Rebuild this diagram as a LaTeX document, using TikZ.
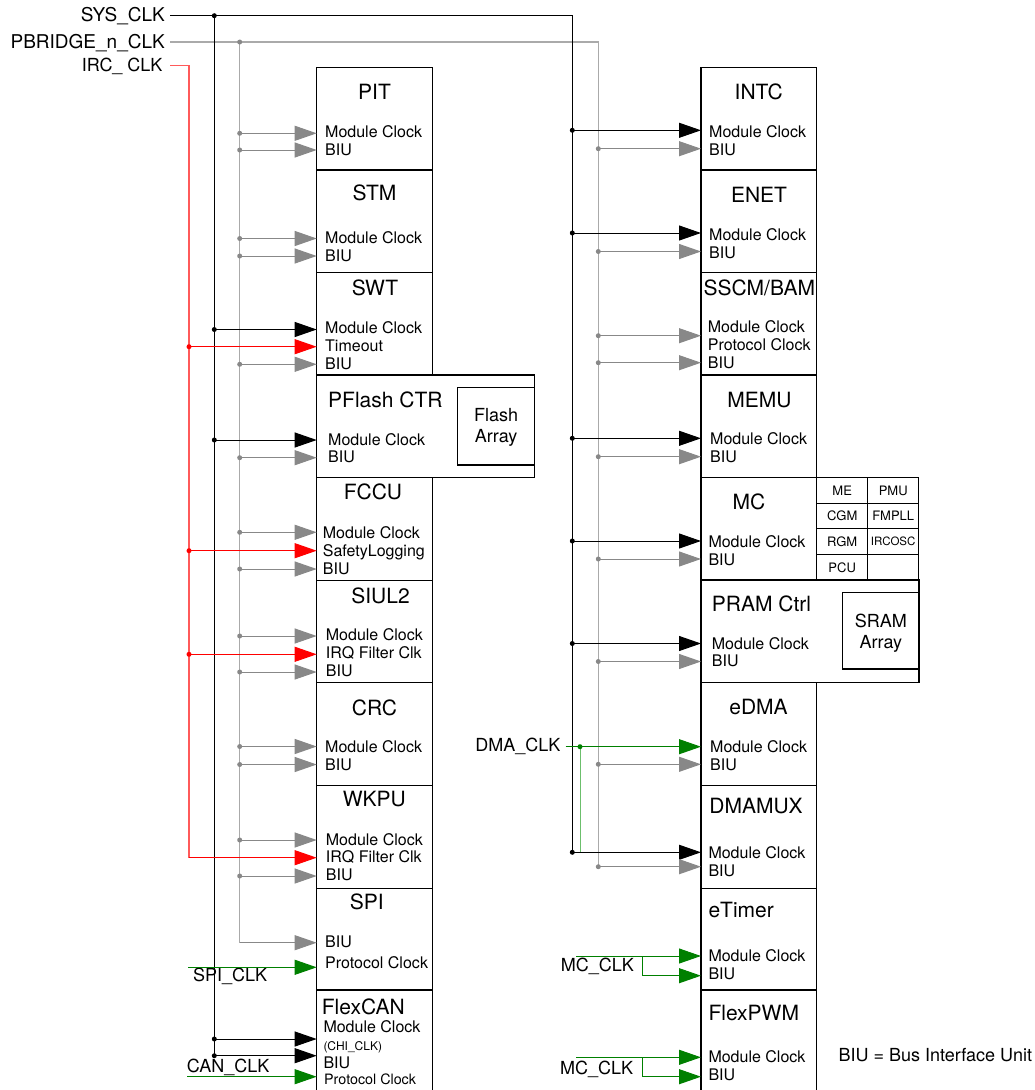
\documentclass[tikz,border=0pt]{standalone}
\usepackage{fontspec}
\setmainfont{TeX Gyre Heros}
\usetikzlibrary{arrows.meta}
\definecolor{gbus}{HTML}{AAAAAA}
\definecolor{garrc}{HTML}{888888}
\definecolor{rbus}{HTML}{FF5A5A}
\definecolor{rarrc}{HTML}{FF0000}
\definecolor{gnarrc}{HTML}{008000}
\definecolor{gnline}{HTML}{1E8C1E}
\definecolor{gnbus}{HTML}{6CBF6C}
\newcommand\arrto[4]{\draw[#1] (#2,#3) -- (#4.west |- 0,#3);}
\newcommand\jdot[3]{\fill[#1] (#2,#3) circle (2.5pt);}
\begin{document}
\begin{tikzpicture}[x=1pt,y=-1pt,
  box/.style={draw, line width=1.1pt, inner sep=0pt, outer sep=0pt, anchor=north west},
  openbox/.style={draw=none, inner sep=0pt, outer sep=0pt, anchor=north west},
  cell/.style={draw, line width=1pt, inner sep=0pt, outer sep=0pt, anchor=north west,
     minimum width=51pt, minimum height=25.6pt, font=\fontsize{13}{15}\selectfont},
  ttl/.style={font=\fontsize{21}{24}\selectfont, inner sep=0pt, anchor=base},
  ttlw/.style={font=\fontsize{21}{24}\selectfont, inner sep=0pt, anchor=base west},
  lbl/.style={font=\fontsize{16}{18}\selectfont, inner sep=0pt, anchor=base west},
  sig/.style={font=\fontsize{18}{20}\selectfont, inner sep=0pt, anchor=base east},
  sigw/.style={font=\fontsize{18}{20}\selectfont, inner sep=0pt, anchor=base west},
  arrtxt/.style={font=\fontsize{18}{21}\selectfont, align=center, inner sep=0pt},
  tipk/.style={-{Triangle[length=22pt,width=15pt]}},
  kA/.style={tipk, line width=1pt, black},
  gA/.style={tipk, line width=1pt, garrc},
  rA/.style={tipk, line width=1pt, rarrc},
  nA/.style={tipk, line width=1pt, gnarrc},
  kbus/.style={line width=1.2pt, black},
  gbusl/.style={line width=1.2pt, gbus},
  rbusl/.style={line width=1.2pt, rbus},
  nbusl/.style={line width=1pt, gnbus},
]
\useasboundingbox (0,0) rectangle (1034,1090);

% ---------------- left column boxes ----------------
\node[box, minimum width=115.6pt, minimum height=102.7pt] (PIT)  at (316.7,67.3)  {};
\node[box, minimum width=115.6pt, minimum height=102.3pt] (STM)  at (316.7,170)   {};
\node[box, minimum width=115.6pt, minimum height=102.7pt] (SWT)  at (316.7,272.3) {};
\node[box, minimum width=218pt,   minimum height=102.5pt] (PFL)  at (316.7,375)   {};
\node[box, minimum width=77pt,    minimum height=77.3pt]  (FLA)  at (457.7,387.7) {};
\node[box, minimum width=115.6pt, minimum height=102.6pt] (FCCU) at (316.7,477.5) {};
\node[box, minimum width=115.6pt, minimum height=102.6pt] (SIUL) at (316.7,580.1) {};
\node[box, minimum width=115.6pt, minimum height=102.6pt] (CRC)  at (316.7,682.7) {};
\node[box, minimum width=115.6pt, minimum height=103pt]   (WKPU) at (316.7,785.3) {};
\node[box, minimum width=115.6pt, minimum height=101.7pt] (SPI)  at (316.7,888.3) {};
\node[openbox, minimum width=115.6pt, minimum height=100pt] (FCAN) at (316.7,990) {};
\draw[line width=1.1pt] (FCAN.south west) -- (FCAN.north west) -- (FCAN.north east) -- (FCAN.south east);

% ---------------- right column boxes ----------------
\node[box, minimum width=115.7pt, minimum height=102.7pt] (INTC) at (701,67.3)  {};
\node[box, minimum width=115.7pt, minimum height=102.3pt] (ENET) at (701,170)   {};
\node[box, minimum width=115.7pt, minimum height=102.7pt] (SSCM) at (701,272.3) {};
\node[box, minimum width=115.7pt, minimum height=102.7pt] (MEMU) at (701,375)   {};
\node[box, minimum width=115.7pt, minimum height=102.3pt] (MC)   at (701,477.7) {};
\node[box, minimum width=218pt,   minimum height=102.7pt] (PRAM) at (701,580)   {};
\node[box, minimum width=76.3pt,  minimum height=76.3pt]  (SRAM) at (842.7,592.7) {};
\node[box, minimum width=115.7pt, minimum height=102.6pt] (EDMA) at (701,682.7) {};
\node[box, minimum width=115.7pt, minimum height=103pt]   (DMUX) at (701,785.3) {};
\node[box, minimum width=115.7pt, minimum height=101.7pt] (ETIM) at (701,888.3) {};
\node[openbox, minimum width=115.7pt, minimum height=100pt] (FPWM) at (701,990) {};
\draw[line width=1.1pt] (FPWM.south west) -- (FPWM.north west) -- (FPWM.north east) -- (FPWM.south east);

% MC sub-table
\node[cell] (cME)  at (816.7,477.7) {ME};
\node[cell] (cPMU) at (867.7,477.7) {PMU};
\node[cell] (cCGM) at (816.7,503.3) {CGM};
\node[cell] (cFPL) at (867.7,503.3) {FMPLL};
\node[cell] (cRGM) at (816.7,528.9) {RGM};
\node[cell, font=\fontsize{11.5}{13}\selectfont] (cIRC) at (867.7,528.9) {IRCOSC};
\node[cell] (cPCU) at (816.7,554.5) {PCU};
\node[cell] (cEMP) at (867.7,554.5) {};

% ---------------- titles ----------------
\node[ttl] (tPIT)  at (374.5,99.5)  {PIT};
\node[ttl] (tSTM)  at (374.5,200.5) {STM};
\node[ttl] (tSWT)  at (375,295)     {SWT};
\node[ttlw] (tPFL) at (328,407)     {PFlash CTR};
\node[ttl] (tFCCU) at (373,499.5)   {FCCU};
\node[ttl] (tSIUL) at (380.5,603)   {SIUL2};
\node[ttl] (tCRC)  at (374.5,715.5) {CRC};
\node[ttl] (tWKPU) at (374.3,806.5) {WKPU};
\node[ttl] (tSPI)  at (366.7,909)   {SPI};
\node[ttlw] (tFCAN) at (321.7,1014) {FlexCAN};
\node[arrtxt] (tFLA) at ([yshift=-1pt]FLA.center) {Flash\\Array};

\node[ttl] (tINTC) at (758.7,99)    {INTC};
\node[ttl] (tENET) at (759,202)     {ENET};
\node[ttlw] (tSSCM) at (703.3,295)  {SSCM/BAM};
\node[ttl] (tMEMU) at (759.5,407.5) {MEMU};
\node[ttl] (tMC)   at (749,509)     {MC};
\node[ttlw] (tPRAM) at (711.7,611.7) {PRAM Ctrl};
\node[ttl] (tEDMA) at (758.5,714.3) {eDMA};
\node[ttl] (tDMUX) at (756,813.3)   {DMAMUX};
\node[ttlw] (tETIM) at (708.3,917)  {eTimer};
\node[ttlw] (tFPWM) at (708.3,1020) {FlexPWM};
\node[arrtxt] (tSRAM) at ([yshift=-2pt]SRAM.center) {SRAM\\Array};

% ---------------- port labels ----------------
\node[lbl] (l1) at (325,137.3) {Module Clock};
\node[lbl] (l2) at (325,155)   {BIU};
\node[lbl] (l3) at (325,243.5) {Module Clock};
\node[lbl] (l4) at (325,261.5) {BIU};
\node[lbl] (l5) at (325,333.3) {Module Clock};
\node[lbl] (l6) at (325,351)   {Timeout};
\node[lbl] (l7) at (325,369)   {BIU};
\node[lbl] (l8) at (328,445)   {Module Clock};
\node[lbl] (l9) at (328,462.5) {BIU};
\node[lbl] (l10) at (322.7,538)   {Module Clock};
\node[lbl] (l11) at (322.7,556.5) {SafetyLogging};
\node[lbl] (l12) at (322.7,574)   {BIU};
\node[lbl] (l13) at (325.7,640.5) {Module Clock};
\node[lbl] (l14) at (325.7,658.3) {IRQ Filter Clk};
\node[lbl] (l15) at (325.7,676.7) {BIU};
\node[lbl] (l16) at (325,752)   {Module Clock};
\node[lbl] (l17) at (325,770)   {BIU};
\node[lbl] (l18) at (325.7,845)   {Module Clock};
\node[lbl] (l19) at (325.7,862.7) {IRQ Filter Clk};
\node[lbl] (l20) at (325.7,880.7) {BIU};
\node[lbl] (l21) at (325,947.7) {BIU};
\node[lbl] (l22) at (325,968)   {Protocol Clock};
\node[lbl] (l23) at (323.3,1032.7) {Module Clock};
\node[lbl, font=\fontsize{12}{14}\selectfont] (l24) at (323.3,1050) {(CHI\_CLK)};
\node[lbl] (l25) at (323.3,1068.7) {BIU};
\node[lbl, font=\fontsize{14.3}{16}\selectfont] (l26) at (324,1084) {Protocol Clock};

\node[lbl] (r1) at (709,137)   {Module Clock};
\node[lbl] (r2) at (709,155.3) {BIU};
\node[lbl] (r3) at (709,240)   {Module Clock};
\node[lbl] (r4) at (709,258)   {BIU};
\node[lbl] (r5) at (707.7,332.7) {Module Clock};
\node[lbl] (r6) at (707.7,350)   {Protocol Clock};
\node[lbl] (r7) at (707.7,368.3) {BIU};
\node[lbl] (r8) at (710,444)   {Module Clock};
\node[lbl] (r9) at (710,462.3) {BIU};
\node[lbl] (r10) at (708.3,547.3) {Module Clock};
\node[lbl] (r11) at (708.3,565)   {BIU};
\node[lbl] (r12) at (711.7,649)   {Module Clock};
\node[lbl] (r13) at (711.7,666.7) {BIU};
\node[lbl] (r14) at (710,752.3) {Module Clock};
\node[lbl] (r15) at (710,770)   {BIU};
\node[lbl] (r16) at (708.3,858.3) {Module Clock};
\node[lbl] (r17) at (708.3,876)   {BIU};
\node[lbl] (r18) at (708.3,961.7) {Module Clock};
\node[lbl] (r19) at (708.3,979.3) {BIU};
\node[lbl] (r20) at (708.3,1062.7) {Module Clock};
\node[lbl] (r21) at (708.3,1080.7) {BIU};

% ---------------- signal names ----------------
\node[sig, font=\fontsize{19}{21}\selectfont] (sSYS) at (165,21.7) {SYS\_CLK};
\node[sig, font=\fontsize{19}{21}\selectfont] (sPB)  at (165,48.3) {PBRIDGE\_n\_CLK};
\node[sig] (sIRC) at (162.7,71.7) {IRC\_ CLK};
\node[sig] (sDMA) at (560.7,751.7) {DMA\_CLK};
\node[sigw] (sSPI) at (193,981.7) {SPI\_CLK};
\node[sigw] (sCAN) at (186.7,1072.7) {CAN\_CLK};
\node[sigw] (sMC1) at (560.7,971.7) {MC\_CLK};
\node[sigw] (sMC2) at (560,1074) {MC\_CLK};
\node[sigw] (note) at (838.3,1061.7) {BIU = Bus Interface Unit};

% ---------------- bus coordinates ----------------
\coordinate (sysS) at (170,15.7);
\coordinate (sysJ) at (214.3,15.7);
\coordinate (sysC) at (572.3,15.7);
\coordinate (sysE) at (572.3,852.3);
\coordinate (sysL) at (214.3,1055.7);
\coordinate (pbS) at (170,42);
\coordinate (pbJ) at (239.7,42);
\coordinate (pbC) at (598.3,42);
\coordinate (pbE) at (598.3,866.7);
\coordinate (pbL) at (239.7,942.7);
\coordinate (irS) at (170,65.7);
\coordinate (irC) at (189,65.7);
\coordinate (irE) at (189,857.7);
\coordinate (dmaS) at (565.7,746.7);
\coordinate (dmaJ) at (580,746.7);
\coordinate (dmaE) at (580,852.3);

% buses
\draw[gbusl] (pbS) -- (pbC) -- (pbE);
\draw[gbusl] (pbJ) -- (pbL);
\draw[rbusl] (irS) -- (irC) -- (irE);
\draw[kbus] (sysS) -- (sysC) -- (sysE);
\draw[kbus] (sysJ) -- (sysL);
\draw[nbusl] (dmaJ) -- (dmaE);

% ---------------- left arrows ----------------
\arrto{gA}{239.7}{133.3}{PIT}
\arrto{gA}{239.7}{150}{PIT}
\arrto{gA}{239.7}{238.5}{STM}
\arrto{gA}{239.7}{256}{STM}
\arrto{kA}{214.3}{329.5}{SWT}
\arrto{rA}{189}{346.7}{SWT}
\arrto{gA}{239.7}{364.3}{SWT}
\arrto{kA}{214.3}{440}{PFL}
\arrto{gA}{239.7}{457.7}{PFL}
\arrto{gA}{239.7}{532.3}{FCCU}
\arrto{rA}{189}{550.7}{FCCU}
\arrto{gA}{239.7}{569}{FCCU}
\arrto{gA}{239.7}{636}{SIUL}
\arrto{rA}{189}{654.3}{SIUL}
\arrto{gA}{239.7}{672}{SIUL}
\arrto{gA}{239.7}{746.5}{CRC}
\arrto{gA}{239.7}{764.5}{CRC}
\arrto{gA}{239.7}{840}{WKPU}
\draw[rA] (irE) -- (WKPU.west |- irE);
\arrto{gA}{239.7}{876}{WKPU}
\draw[gA] (pbL) -- (SPI.west |- pbL);
\arrto{nA}{188}{967.3}{SPI}
\arrto{kA}{214.3}{1039}{FCAN}
\draw[kA] (sysL) -- (FCAN.west |- sysL);
\arrto{nA}{187}{1076.7}{FCAN}

% left dots
\jdot{black}{214.3}{15.7}
\jdot{garrc}{239.7}{42}
\foreach \yy in {133.3,150,238.5,256,364.3,457.7,532.3,569,636,672,746.5,764.5,840,876}
  {\jdot{garrc}{239.7}{\yy}}
\foreach \yy in {329.5,440,1039,1055.7}
  {\jdot{black}{214.3}{\yy}}
\foreach \yy in {346.7,550.7,654.3}
  {\jdot{rarrc}{189}{\yy}}

% ---------------- right arrows ----------------
\arrto{kA}{572.3}{130.3}{INTC}
\arrto{gA}{598.3}{148.7}{INTC}
\arrto{kA}{572.3}{233}{ENET}
\arrto{gA}{598.3}{251.5}{ENET}
\arrto{gA}{598.3}{335.7}{SSCM}
\arrto{gA}{598.3}{362.7}{SSCM}
\arrto{kA}{572.3}{438.3}{MEMU}
\arrto{gA}{598.3}{456.7}{MEMU}
\arrto{kA}{572.3}{541}{MC}
\arrto{gA}{598.3}{559}{MC}
\arrto{kA}{572.3}{643.5}{PRAM}
\arrto{gA}{598.3}{661.5}{PRAM}
\draw[nA] (dmaS) -- (EDMA.west |- dmaS);
\arrto{gA}{598.3}{764.3}{EDMA}
\draw[kA] (sysE) -- (DMUX.west |- sysE);
\draw[gA] (pbE) -- (DMUX.west |- pbE);
\arrto{nA}{576}{956}{ETIM}
\draw[nA] (642.3,956) |- (ETIM.west |- 0,975.7);
\arrto{nA}{576}{1057.3}{FPWM}
\draw[nA] (642.3,1057.3) |- (FPWM.west |- 0,1076.7);

% right dots
\foreach \yy in {130.3,233,438.3,541,643.5,852.3}
  {\jdot{black}{572.3}{\yy}}
\foreach \yy in {148.7,251.5,335.7,362.7,456.7,559,661.5,764.3,866.7}
  {\jdot{garrc}{598.3}{\yy}}
\jdot{gnarrc}{580}{746.7}
\end{tikzpicture}
\end{document}
